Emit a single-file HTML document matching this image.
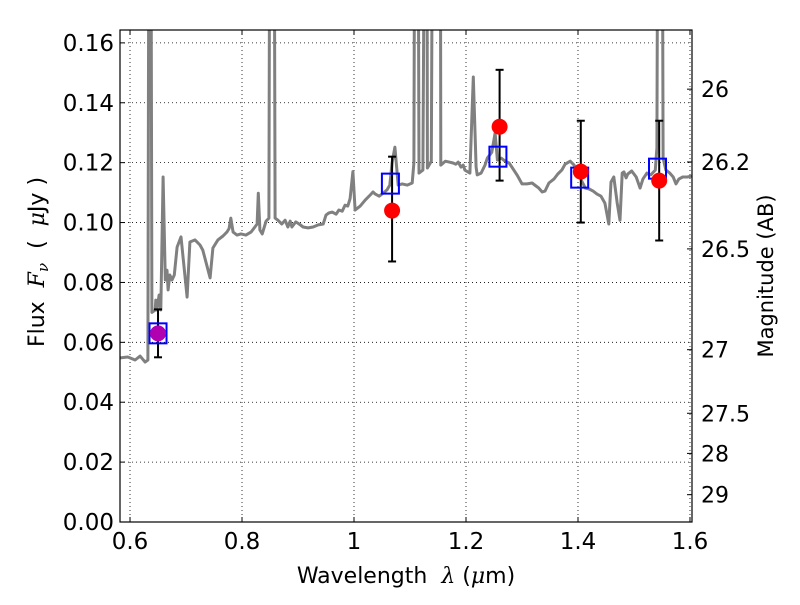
<!DOCTYPE html>
<html><head><meta charset="utf-8"><style>
html,body{margin:0;padding:0;background:#fff;}
svg text{font-family:"DejaVu Sans","Liberation Sans",sans-serif;fill:#000;}
</style></head><body>
<svg id="chart" width="800" height="600" viewBox="0 0 800 600" xmlns="http://www.w3.org/2000/svg">
<rect width="800" height="600" fill="#fff"/>
<defs><clipPath id="plotclip"><rect x="120" y="30" width="572" height="492"/></clipPath></defs>
<g id="grid"></g>
<g id="spec" clip-path="url(#plotclip)"></g>
<g id="marks"></g>
<rect x="120" y="30" width="572" height="492" fill="none" stroke="#000" stroke-width="1.2"/>
<g id="ticks"></g>
<text x="406" y="583" font-size="22" text-anchor="middle">Wavelength&#160;&#160;<tspan font-style="italic" font-family="DejaVu Serif, serif">λ</tspan> (<tspan font-style="italic" font-family="DejaVu Serif, serif">μ</tspan>m)</text>
<text transform="translate(44,262) rotate(-90)" font-size="22" text-anchor="middle">Flux&#160;&#160;<tspan font-style="italic" font-family="DejaVu Serif, serif">F<tspan font-size="15" dy="4">ν</tspan></tspan><tspan dy="-4">&#160;&#160;(&#160;&#160;</tspan><tspan font-style="italic" font-family="DejaVu Serif, serif">μ</tspan>Jy )</text>
<text transform="translate(773,276) rotate(-90)" font-size="21" text-anchor="middle">Magnitude (AB)</text>
</svg>
<script>
const specWl=[0.582,0.596,0.609,0.618,0.627,0.632,0.634,0.637,0.639,0.645,0.646,0.648,0.652,0.655,0.659,0.663,0.666,0.668,0.671,0.675,0.679,0.684,0.691,0.702,0.707,0.716,0.725,0.730,0.743,0.748,0.757,0.766,0.773,0.777,0.780,0.784,0.791,0.798,0.807,0.816,0.823,0.827,0.829,0.832,0.836,0.843,0.848,0.850,0.857,0.859,0.864,0.871,0.877,0.882,0.886,0.889,0.896,0.902,0.909,0.918,0.927,0.936,0.945,0.950,0.955,0.961,0.968,0.973,0.979,0.984,0.989,0.993,0.998,1.002,1.011,1.020,1.029,1.034,1.038,1.045,1.052,1.059,1.064,1.068,1.073,1.079,1.086,1.095,1.104,1.107,1.109,1.114,1.116,1.123,1.127,1.130,1.131,1.138,1.141,1.154,1.155,1.163,1.170,1.177,1.182,1.186,1.191,1.195,1.198,1.207,1.213,1.218,1.220,1.227,1.234,1.238,1.246,1.252,1.256,1.263,1.270,1.277,1.282,1.291,1.300,1.309,1.318,1.325,1.330,1.336,1.341,1.348,1.357,1.364,1.371,1.377,1.386,1.393,1.405,1.413,1.420,1.427,1.434,1.441,1.448,1.455,1.459,1.464,1.470,1.475,1.479,1.482,1.486,1.489,1.496,1.504,1.511,1.516,1.523,1.530,1.538,1.541,1.543,1.550,1.552,1.557,1.564,1.570,1.575,1.580,1.587,1.595,1.603];
const specFlux=[0.0548,0.0551,0.0541,0.0554,0.0534,0.0541,0.25,0.25,0.070,0.0708,0.0741,0.0708,0.0758,0.0708,0.1152,0.0808,0.0841,0.0775,0.0825,0.0808,0.0825,0.0918,0.0952,0.0751,0.0935,0.0942,0.0925,0.0908,0.0815,0.0915,0.0942,0.0955,0.0968,0.0980,0.1015,0.0968,0.0958,0.0962,0.0958,0.0968,0.0985,0.0995,0.1098,0.0975,0.0962,0.1005,0.1015,0.25,0.25,0.1015,0.1008,0.0995,0.1008,0.0985,0.1005,0.0985,0.1002,0.0995,0.0985,0.0982,0.0985,0.0992,0.0995,0.1025,0.1032,0.1035,0.1028,0.1042,0.1038,0.1058,0.1055,0.108,0.117,0.1042,0.1055,0.1075,0.1092,0.1102,0.1095,0.1088,0.1098,0.1109,0.1125,0.1200,0.1252,0.1125,0.1129,0.1125,0.1132,0.12,0.25,0.25,0.1165,0.1175,0.25,0.25,0.1182,0.1205,0.25,0.25,0.1192,0.1205,0.1202,0.1199,0.1195,0.1202,0.1185,0.1192,0.1175,0.1165,0.1486,0.1185,0.1159,0.1165,0.1192,0.1215,0.1235,0.1299,0.1209,0.1215,0.1205,0.1199,0.1185,0.1159,0.1129,0.1129,0.1132,0.1122,0.1115,0.1102,0.1105,0.1132,0.1145,0.1162,0.1175,0.1195,0.1205,0.1192,0.1145,0.1115,0.1112,0.1105,0.1095,0.1088,0.1065,0.0995,0.1135,0.1152,0.1065,0.1008,0.1165,0.1169,0.1149,0.1162,0.1172,0.1152,0.1115,0.1145,0.1165,0.1159,0.1175,0.125,0.25,0.25,0.1215,0.1175,0.1165,0.1152,0.1129,0.1145,0.1152,0.1152,0.1155];
const obsWl=[0.65,1.068,1.26,1.405,1.545];
const obsFlux=[0.063,0.104,0.132,0.117,0.114];
const obsLo=[0.055,0.087,0.114,0.100,0.094];
const obsHi=[0.071,0.122,0.151,0.134,0.134];
const modelWl=[0.65,1.065,1.257,1.403,1.542];
const modelFlux=[0.063,0.113,0.122,0.115,0.118];
const xTicks=[0.6,0.8,1.0,1.2,1.4,1.6];
const xTickLabels=["0.6","0.8","1","1.2","1.4","1.6"];
const yTicks=[0,0.02,0.04,0.06,0.08,0.10,0.12,0.14,0.16];
const yTickLabels=["0.00","0.02","0.04","0.06","0.08","0.10","0.12","0.14","0.16"];
const magTicks=[26,26.2,26.5,27,27.5,28,29];
const magTickLabels=["26","26.2","26.5","27","27.5","28","29"];

const NS="http://www.w3.org/2000/svg";
const L=120,R=692,T=30,B=522;
const xMin=0.5821,xMax=1.6036,yMin=0,yMax=0.1643;
const sx=v=>L+(v-xMin)/(xMax-xMin)*(R-L);
const sy=v=>B-(v-yMin)/(yMax-yMin)*(B-T);
function mk(tag,attrs,parent){const e=document.createElementNS(NS,tag);for(const k in attrs)e.setAttribute(k,attrs[k]);parent.appendChild(e);return e;}
const grid=document.getElementById('grid'),ticks=document.getElementById('ticks');
const spec=document.getElementById('spec'),marks=document.getElementById('marks');

xTicks.forEach((v,i)=>{
  const x=sx(v);
  let g=mk('line',{x1:x,y1:T,x2:x,y2:B,stroke:'#000','stroke-width':0.8,'stroke-dasharray':'1,3'},grid);
  
  
  mk('line',{x1:x,y1:B,x2:x,y2:B-5,stroke:'#000','stroke-width':1},ticks);
  mk('line',{x1:x,y1:T,x2:x,y2:T+5,stroke:'#000','stroke-width':1},ticks);
  let t=mk('text',{x:x,y:B+27,'font-size':23,'text-anchor':'middle'},ticks);
  t.textContent=xTickLabels[i];
  
  
});
yTicks.forEach((v,i)=>{
  const y=sy(v);
  let g=mk('line',{x1:L,y1:y,x2:R,y2:y,stroke:'#000','stroke-width':0.8,'stroke-dasharray':'1,3'},grid);
  
  
  mk('line',{x1:L,y1:y,x2:L+5,y2:y,stroke:'#000','stroke-width':1},ticks);
  let t=mk('text',{x:L-6,y:y+8,'font-size':23,'text-anchor':'end'},ticks);
  t.textContent=yTickLabels[i];
  
  
});
magTicks.forEach((m,i)=>{
  const f=Math.pow(10,(23.9-m)/2.5);const y=sy(f);
  mk('line',{x1:R,y1:y,x2:R-5,y2:y,stroke:'#000','stroke-width':1},ticks);
  let t=mk('text',{x:R+9,y:y+8,'font-size':22,'text-anchor':'start'},ticks);
  t.textContent=magTickLabels[i];
  
  
});
const pts=specWl.map((w,i)=>sx(w).toFixed(1)+','+sy(specFlux[i]).toFixed(1)).join(' ');
const pl=mk('polyline',{points:pts,fill:'none',stroke:'#808080','stroke-width':3,'stroke-linejoin':'round'},spec);



obsWl.forEach((w,i)=>{
  const x=sx(w);
  const e=mk('g',{},marks);
  
  
  mk('line',{x1:x,y1:sy(obsLo[i]),x2:x,y2:sy(obsHi[i]),stroke:'#000','stroke-width':2},e);
  mk('line',{x1:x-4,y1:sy(obsLo[i]),x2:x+4,y2:sy(obsLo[i]),stroke:'#000','stroke-width':2},e);
  mk('line',{x1:x-4,y1:sy(obsHi[i]),x2:x+4,y2:sy(obsHi[i]),stroke:'#000','stroke-width':2},e);
});
modelWl.forEach((w,i)=>{
  const s=mk('rect',{x:sx(w)-8.5,y:sy(modelFlux[i])-10,width:17,height:20,fill:'none',stroke:'#0000ff','stroke-width':2},marks);
  
  
});
obsWl.forEach((w,i)=>{
  const c=mk('circle',{cx:sx(w),cy:sy(obsFlux[i]),r:8,fill:(i===0?'#b000b0':'#ff0000')},marks);
  
  
});
</script>
</body></html>
